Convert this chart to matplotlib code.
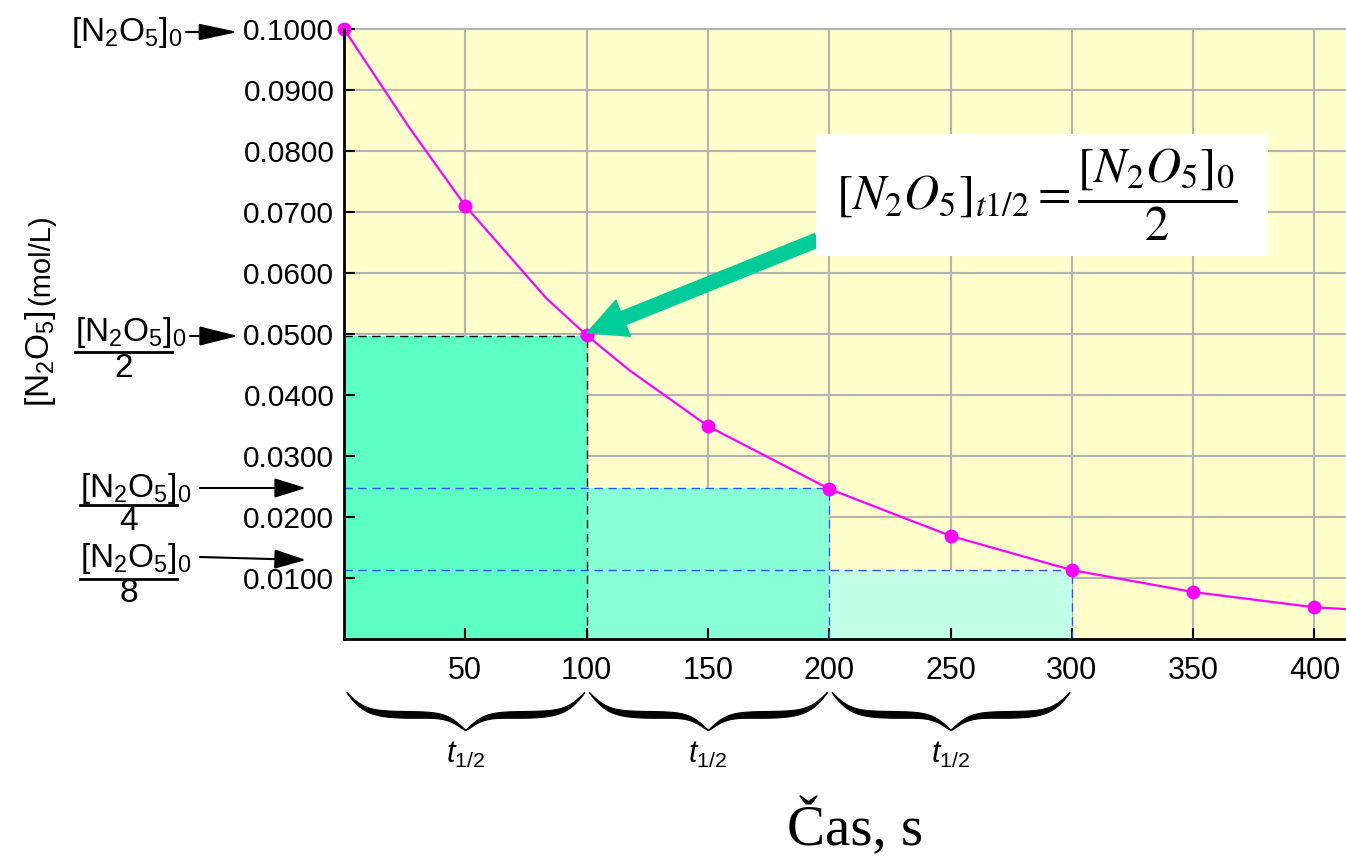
import numpy as np
import matplotlib.pyplot as plt
from matplotlib.patches import Rectangle

plt.rcParams['font.family'] = ['Liberation Sans', 'DejaVu Sans']
plt.rcParams['mathtext.fontset'] = 'custom'
plt.rcParams['mathtext.rm'] = 'Liberation Sans'
plt.rcParams['mathtext.it'] = 'Liberation Sans:italic'

# concentration of N2O5
time_pts = [0, 50, 100, 150, 200, 250, 300, 350, 400]
conc_pts = [0.1000, 0.0710, 0.0498, 0.0349, 0.0246, 0.0169, 0.0113, 0.0077, 0.0052]
# the drawn curve has a few extra vertices
line_t = [0, 26.8, 50, 83.3, 100, 117.5, 150, 200, 250, 300, 350, 400, 413]
line_c = [0.1000, 0.0839, 0.0710, 0.0559, 0.0498, 0.0441, 0.0349, 0.0246, 0.0169,
          0.0113, 0.0077, 0.0052, 0.0049]

# half-life blocks
block_start = [0, 100, 200]
block_level = [0.0497, 0.0248, 0.0113]
block_colors = ['#5CFFC4', '#88FFD6', '#C2FFE8']
dash_colors = ['black', '#3355EE', '#3355EE']

xticks = [50, 100, 150, 200, 250, 300, 350, 400]
yticks = [0.01, 0.02, 0.03, 0.04, 0.05, 0.06, 0.07, 0.08, 0.09, 0.10]

W, H = 1346, 861
fig = plt.figure(figsize=(W / 100, H / 100), dpi=100)
ax = fig.add_axes([344 / W, 1 - 639 / H, (W - 344) / W, (639 - 29) / H])
ax.set_facecolor('#FFFFCC')
ax.set_xlim(0, 413)
ax.set_ylim(0, 0.1)

# grid by hand so the blocks cover it but ticks stay on top
for xv in xticks:
    ax.axvline(xv, color='#b4b4b4', lw=1.5, zorder=0.5)
for yv in yticks:
    ax.axhline(yv, color='#b4b4b4', lw=1.5, zorder=0.5, clip_on=False)

ax.bar(block_start, block_level, width=100, align='edge', color=block_colors, zorder=1)
for x0, lev, dc in zip(block_start, block_level, dash_colors):
    ax.plot([0, x0 + 100], [lev, lev], ls=(0, (6, 4)), color=dc, lw=1, zorder=1.8)
    ax.plot([x0 + 100, x0 + 100], [0, lev], ls=(0, (6, 4)), color=dc, lw=1, zorder=1.8)

ax.plot(line_t, line_c, color='#FF00FF', lw=1.6, zorder=3, clip_on=False)
ax.plot(time_pts, conc_pts, 'o', color='#FF00FF', ms=9, zorder=3.1, clip_on=False)

ax.set_xticks(xticks)
ax.set_yticks(yticks)
ax.set_yticklabels(['%.4f' % v for v in yticks])
ax.tick_params(axis='both', direction='in', length=8, width=1.5, color='black')
ax.tick_params(axis='y', labelsize=21.5, pad=7)
ax.tick_params(axis='x', labelsize=22, pad=12)
for s in ['top', 'right']:
    ax.spines[s].set_visible(False)
for s in ['left', 'bottom']:
    ax.spines[s].set_linewidth(2)
    ax.spines[s].set_zorder(4)

# green arrow to the half-life point
ax.annotate('', xy=(100.2, 0.0502), xytext=(195, 0.0654),
            arrowprops=dict(arrowstyle='simple,head_length=1.4,head_width=1.4,tail_width=0.5',
                            mutation_scale=20, color='#00CC99', shrinkA=0, shrinkB=0),
            zorder=5)

# equation box
fig.patches.append(Rectangle((816 / W, 1 - 256 / H), 452 / W, 122 / H,
                             transform=fig.transFigure, facecolor='white', edgecolor='none'))
fig.text(1037 / W, 1 - 195 / H, r'$[N_2O_5]_{t1/2} = \dfrac{[N_2O_5]_0}{2}$',
         math_fontfamily='stix', fontsize=35, ha='center', va='center')

# curly braces under the x axis
def brace(x0, x1, y_top, y_tip, thick):
    n = 201
    x = np.linspace(x0, x1, n)
    half = x[:n // 2 + 1]
    beta = 0.25
    yh = 1 / (1 + np.exp(-beta * (half - half[0]))) + 1 / (1 + np.exp(-beta * (half - half[-1])))
    y = np.concatenate((yh, yh[-2::-1]))
    f = np.linspace(0, 1, n // 2 + 1)
    w = np.sin(np.pi * f) ** 0.6
    w = np.concatenate((w, w[-2::-1]))
    yv = y_top + (y - 0.5) * (y_tip - y_top)
    ax.fill_between(x, yv, yv - thick * w, color='black', lw=0.8, clip_on=False)

for x0 in block_start:
    brace(x0 + 1, x0 + 99, -0.0087, -0.0149, 0.0011)
    ax.text(x0 + 50, -0.0190, r'$\mathit{t}_{\mathregular{1/2}}$', fontsize=22,
            ha='center', va='center', clip_on=False)

# labels on the left
lab = r'[N$_\mathregular{2}$O$_\mathregular{5}$]$_\mathregular{0}$'

def fpx(x, y):
    return (x / W, 1 - y / H)

fig.text(*fpx(182, 32), lab, fontsize=24, ha='right', va='center')
ax.annotate('', xy=fpx(238, 32), xytext=fpx(186, 32), xycoords='figure fraction',
            arrowprops=dict(arrowstyle='-|>,head_length=0.8,head_width=0.17',
                            mutation_scale=30, color='black', lw=1.5, shrinkA=0, shrinkB=0))

for xl, ynum, yline, ul, den, yden, a0, a1, hl in [
        (75, 332, 352, 172, '2', 368, (190, 336), (238, 336), 0.8),
        (80, 488, 505, 177, '4', 521, (200, 488), (306, 488), 0.65),
        (80, 558, 579, 177, '8', 593, (200, 557), (306, 560), 0.65)]:
    fig.text(*fpx(xl, ynum), lab, fontsize=24, ha='left', va='center')
    fig.add_artist(plt.Line2D([xl / W, ul / W], [1 - yline / H] * 2, color='black', lw=2,
                              transform=fig.transFigure))
    fig.text(*fpx((xl + ul) / 2, yden), den, fontsize=24, ha='center', va='center')
    ax.annotate('', xy=fpx(*a1), xytext=fpx(*a0), xycoords='figure fraction',
                arrowprops=dict(arrowstyle='-|>,head_length=%s,head_width=0.2' % hl,
                                mutation_scale=30, color='black', lw=1.5, shrinkA=0, shrinkB=0))

# y axis label
fig.text(*fpx(49, 407), r'[N$_\mathregular{2}$O$_\mathregular{5}$]', fontsize=24, rotation=90,
         rotation_mode='anchor', ha='left', va='baseline')
fig.text(*fpx(49, 305), '(mol/L)', fontsize=21, rotation=90,
         rotation_mode='anchor', ha='left', va='baseline')

# x axis label
fig.text(*fpx(855, 845), 'Čas, s', family='Liberation Serif', fontsize=41,
         ha='center', va='baseline')

fig.savefig('out.png', dpi=100)
